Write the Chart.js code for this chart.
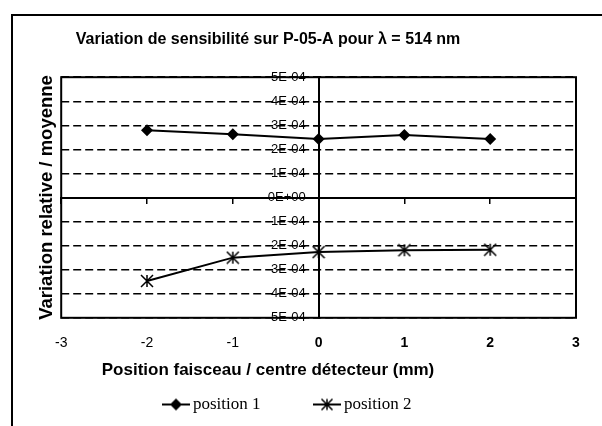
<!DOCTYPE html>
<html>
<head>
<meta charset="utf-8">
<script src="https://cdn.jsdelivr.net/npm/chart.js@4"></script>
<style>
  html, body { margin: 0; padding: 0; background: #fff; overflow: hidden; }
  #wrap { position: relative; width: 602px; height: 426px; overflow: hidden; }
  #chart { position: absolute; left: -40px; top: 0; }
  #border { position: absolute; left: 11px; top: 14px; width: 700px; height: 600px; border: 2px solid #000; pointer-events: none; }
</style>
</head>
<body>
<div id="wrap">
  <canvas id="chart" width="642" height="426"></canvas>
  <div id="border"></div>
</div>
<script>
var positions = [-2, -1, 0, 1, 2];
var position1 = [2.80e-4, 2.63e-4, 2.43e-4, 2.60e-4, 2.43e-4];
var position2 = [-3.47e-4, -2.50e-4, -2.27e-4, -2.19e-4, -2.17e-4];
var seriesNames = ['position 1', 'position 2'];
var titleText = 'Variation de sensibilité sur P-05-A pour λ = 514 nm';
var xTitle = 'Position faisceau / centre détecteur (mm)';
var yTitle = 'Variation relative / moyenne';

var SANS = 'Liberation Sans';
var SERIF = 'Liberation Serif';
Chart.defaults.font.family = SANS;
Chart.defaults.color = '#000';

// y labels in Excel style: 5E-04, 0E+00, -3E-04
function sci(v) {
    if (Math.abs(v) < 1e-12) return '0E+00';
    var parts = v.toExponential(0).split('e');
    var exp = parseInt(parts[1], 10);
    var e = Math.abs(exp);
    return parts[0] + 'E' + (exp < 0 ? '-' : '+') + (e < 10 ? '0' + e : e);
}

function points(ys) {
    return positions.map(function (x, i) { return {x: x, y: ys[i]}; });
}

// markers
function drawDiamond(g, cx, cy, r) {
    g.beginPath();
    g.moveTo(cx - r, cy); g.lineTo(cx, cy - r); g.lineTo(cx + r, cy); g.lineTo(cx, cy + r);
    g.closePath();
    g.fill();
}
function drawStar(g, cx, cy, r) {
    g.lineWidth = 1.5;
    g.beginPath();
    g.moveTo(cx - r, cy - r); g.lineTo(cx + r, cy + r);
    g.moveTo(cx + r, cy - r); g.lineTo(cx - r, cy + r);
    g.moveTo(cx, cy - r); g.lineTo(cx, cy + r);
    g.stroke();
}
function makeCanvas(w, h) {
    var c = document.createElement('canvas');
    c.width = w; c.height = h;
    var g = c.getContext('2d');
    g.fillStyle = '#000'; g.strokeStyle = '#000';
    return c;
}
var starPoint = makeCanvas(14, 14);
drawStar(starPoint.getContext('2d'), 7, 7, 6);

// legend icons: line + marker, placed at the right end of the box
function legendIcon(marker) {
    var c = makeCanvas(75, 14);
    var g = c.getContext('2d');
    g.lineWidth = 2;
    g.beginPath(); g.moveTo(45, 7); g.lineTo(73, 7); g.stroke();
    marker(g, 59, 7);
    return c;
}
var legendIcons = [
    legendIcon(function (g, x, y) { drawDiamond(g, x, y, 6); }),
    legendIcon(function (g, x, y) { drawStar(g, x, y, 5.5); })
];

var plotFrame = {
    id: 'plotFrame',
    beforeDatasetsDraw: function (chart) {
        var a = chart.chartArea, ctx = chart.ctx;
        ctx.save();
        ctx.strokeStyle = '#000';
        ctx.lineWidth = 2;
        ctx.strokeRect(a.left, a.top, a.right - a.left, a.bottom - a.top);
        ctx.restore();
    }
};

new Chart(document.getElementById('chart').getContext('2d'), {
    type: 'line',
    data: {
        datasets: [
            {
                label: seriesNames[0],
                data: points(position1),
                borderColor: '#000',
                backgroundColor: '#000',
                borderWidth: 2,
                pointStyle: 'rectRot',
                pointRadius: 6,
                pointBorderWidth: 0
            },
            {
                label: seriesNames[1],
                data: points(position2),
                borderColor: '#000',
                backgroundColor: '#000',
                borderWidth: 2,
                pointStyle: starPoint,
                pointRadius: 6
            }
        ]
    },
    options: {
        responsive: false,
        animation: false,
        layout: { padding: { left: 0, right: 26, top: 0, bottom: 3 } },
        scales: {
            x: {
                type: 'linear',
                position: 'bottom',
                min: -3,
                max: 3,
                ticks: {
                    stepSize: 1,
                    padding: 0,
                    font: function (ctx) {
                        var bold = ctx.tick && ctx.tick.value >= 0;
                        return { family: SANS, size: 14, weight: bold ? 'bold' : 'normal' };
                    }
                },
                grid: { display: false, drawTicks: true, tickLength: 17 },
                border: { display: false }
            },
            // horizontal axis line through y = 0
            x2: {
                type: 'linear',
                axis: 'x',
                position: { y: 0 },
                min: -3,
                max: 3,
                ticks: { stepSize: 1, display: false },
                grid: { drawOnChartArea: false, drawTicks: true, tickLength: 5, color: '#000', lineWidth: 1.5 },
                border: { display: true, color: '#000', width: 2 }
            },
            // vertical axis line through x = 0, with the dashed grid
            y: {
                type: 'linear',
                position: { x: 0 },
                min: -5e-4,
                max: 5e-4,
                ticks: { stepSize: 1e-4, display: false },
                grid: { color: '#000', lineWidth: 1.5, tickLength: 5 },
                border: { display: true, color: '#000', width: 2, dash: [8, 4] }
            },
            // labels of the vertical axis, a little left of the x = 0 line
            yLabels: {
                type: 'linear',
                axis: 'y',
                position: { x: -0.15 },
                min: -5e-4,
                max: 5e-4,
                ticks: {
                    stepSize: 1e-4,
                    font: { size: 13 },
                    callback: function (v) { return sci(v); }
                },
                grid: { display: false },
                border: { display: false }
            },
            yTitle: {
                type: 'linear',
                axis: 'y',
                position: 'left',
                ticks: { display: false },
                grid: { display: false, drawTicks: false },
                border: { display: false },
                title: {
                    display: true,
                    text: yTitle,
                    font: { size: 18.5, weight: 'bold' },
                    padding: { top: 76, bottom: 3 }
                }
            }
        },
        plugins: {
            title: {
                display: true,
                text: titleText,
                font: { size: 16, weight: 'bold' },
                padding: { top: 30, bottom: 28 }
            },
            subtitle: {
                display: true,
                position: 'bottom',
                weight: 500,
                text: xTitle,
                font: { size: 17, weight: 'bold' },
                padding: { top: 9, bottom: 0 }
            },
            legend: {
                position: 'bottom',
                weight: 1000,
                labels: {
                    usePointStyle: true,
                    pointStyleWidth: 60,
                    padding: 15,
                    font: { family: SERIF, size: 17 },
                    generateLabels: function (chart) {
                        var items = Chart.defaults.plugins.legend.labels.generateLabels(chart);
                        items.forEach(function (item, i) { item.pointStyle = legendIcons[i]; });
                        return items;
                    }
                }
            },
            tooltip: { enabled: false }
        }
    },
    plugins: [plotFrame]
});
</script>
</body>
</html>
